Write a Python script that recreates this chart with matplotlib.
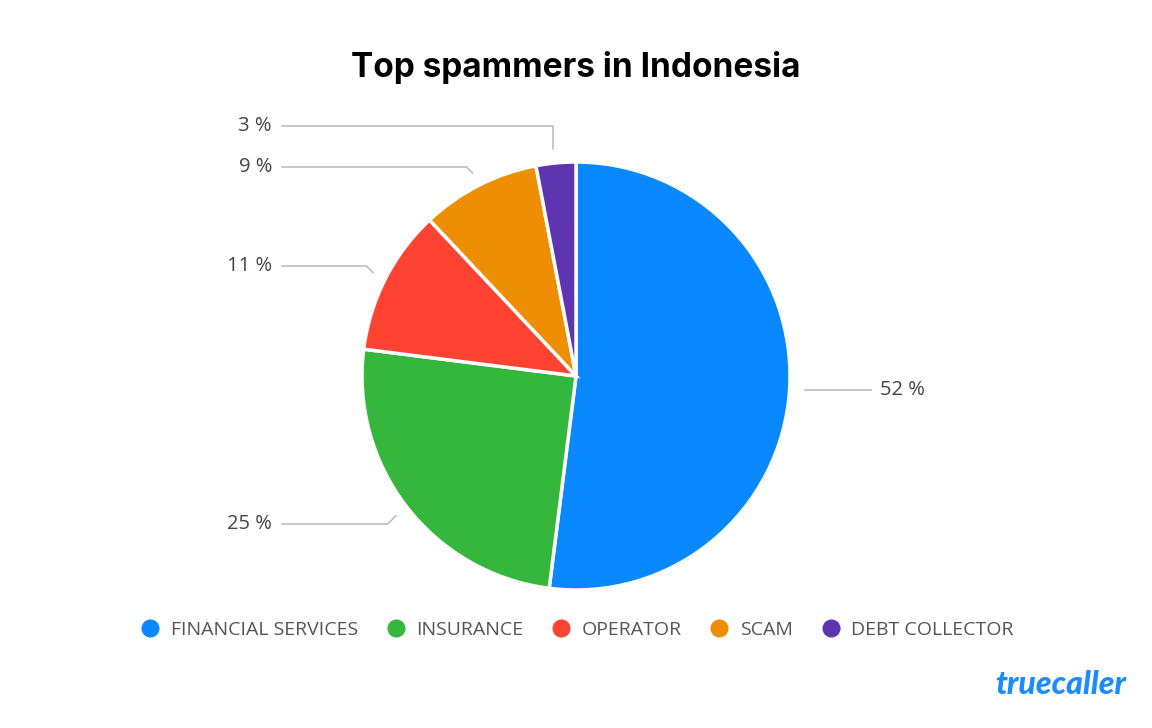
import numpy as np
import matplotlib
matplotlib.use("Agg")
import matplotlib.pyplot as plt
from matplotlib.lines import Line2D

categories = ["FINANCIAL SERVICES", "INSURANCE", "OPERATOR", "SCAM", "DEBT COLLECTOR"]
values = [52, 25, 11, 9, 3]
labels = ["52 %", "25 %", "11 %", "9 %", "3 %"]
colors = ["#0A88FF", "#35B73D", "#FF4332", "#EE8F03", "#5E35B1"]

W, H = 1152, 728
fig = plt.figure(figsize=(W / 100, H / 100), dpi=100)
ax = fig.add_axes([0, 0, 1, 1])
ax.set_xlim(0, W)
ax.set_ylim(0, H)
ax.set_aspect("equal")
ax.axis("off")

cx, cy, R = 576, H - 376, 214
wedges, _ = ax.pie(values, colors=colors, startangle=90, counterclock=False,
                   center=(cx, cy), radius=R, frame=True,
                   wedgeprops=dict(edgecolor="white", linewidth=2.5))
ax.set_xlim(0, W)
ax.set_ylim(0, H)
ax.axis("off")

# leader lines & labels
label_y = {1: H - 524, 2: H - 266, 3: H - 167, 4: H - 126}
lc = "#BDBDBD"
lab_font = dict(family="Open Sans", fontsize=14.5, color="#444444")
for i, w in enumerate(wedges):
    mid = np.deg2rad((w.theta1 + w.theta2) / 2)
    ax_ = cx + (R + 14) * np.cos(mid)
    ay_ = cy + (R + 14) * np.sin(mid)
    if i == 0:
        ax.plot([ax_ + 1, ax_ + 67], [ay_, ay_], color=lc, lw=1.2)
        ax.text(ax_ + 76, ay_, labels[i], ha="left", va="center", **lab_font)
    else:
        ly = label_y[i]
        if i == 4:
            ex, ey = ax_ - 2, ly
            ax_ -= 2
        else:
            dy = ly - ay_
            ex, ey = ax_ - abs(dy), ly
        ax.plot([ax_, ex, 282], [ay_, ey, ly], color=lc, lw=1.2)
        ax.text(272, ly, labels[i], ha="right", va="center", **lab_font)

# title
ax.text(576, H - 68, "Top spammers in Indonesia", ha="center", va="center",
        family="Inter", fontweight="bold", fontsize=24, color="#000000")

# legend
handles = [Line2D([0], [0], marker="o", linestyle="none", markersize=12,
                  markerfacecolor=c, markeredgecolor=c) for c in colors]
leg = fig.legend(handles, categories, loc="center", bbox_to_anchor=(577 / W, 1 - 630 / H),
                 ncol=5, frameon=False, handletextpad=0.55, columnspacing=1.45,
                 handlelength=1.0, prop=dict(family="Open Sans", size=14))
for t in leg.get_texts():
    t.set_color("#555555")

# logo
ax.text(1061, H - 685, "truecaller", ha="center", va="center", family="Lato",
        fontweight="black", fontstyle="italic", fontsize=23, color="#1A8CFF")

fig.savefig("out.png", dpi=100, facecolor="white")
